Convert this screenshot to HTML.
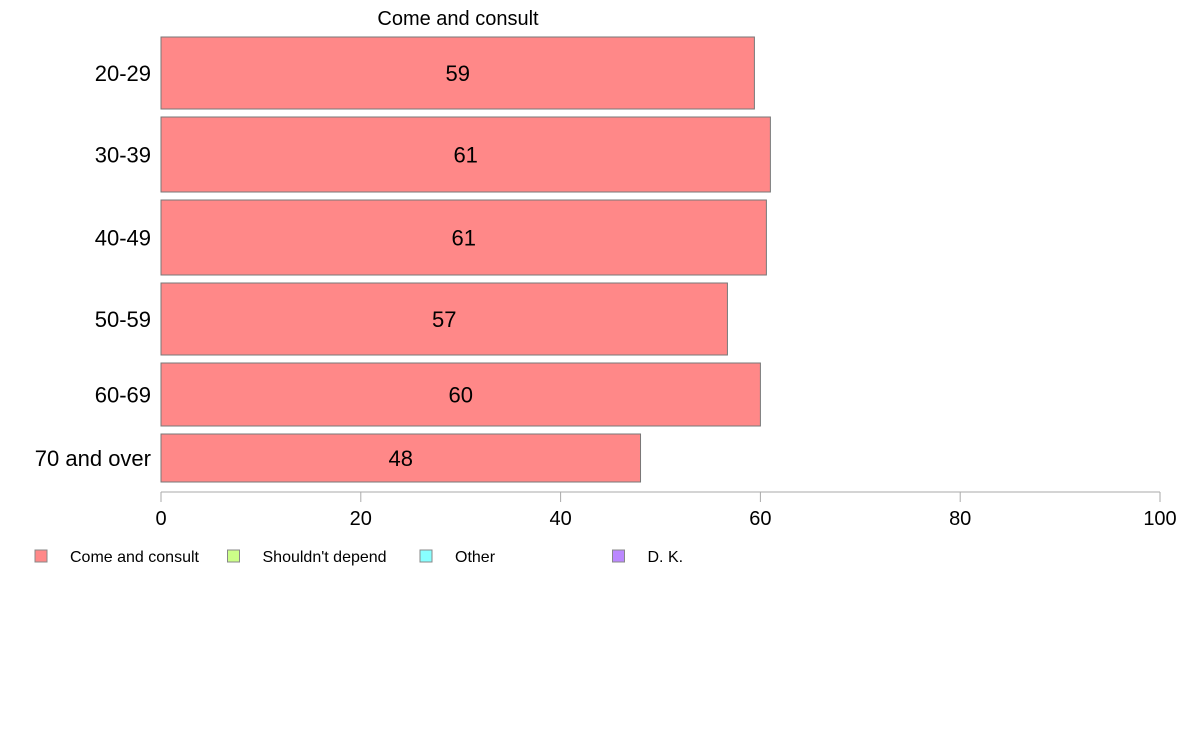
<!DOCTYPE html>
<html><head><meta charset="utf-8"><style>
body{margin:0;background:#fff;width:1188px;height:736px;overflow:hidden}
svg{font-family:"Liberation Sans",Arial,sans-serif}
</style></head><body>
<svg id="chart" width="1188" height="736" viewBox="0 0 1188 736">
<text x="458" y="25" font-size="20" text-anchor="middle">Come and consult</text>
<g id="bars"></g>
<g id="axis"></g>
<g id="legend"></g>
</svg>
<script>
const categories = ["20-29","30-39","40-49","50-59","60-69","70 and over"];
const values = [59.4, 61.0, 60.6, 56.7, 60.0, 48.0];
const labels = ["59","61","61","57","60","48"];
const weights = [72, 75, 75, 72, 63, 48];
const ticks = [0,20,40,60,80,100];
const legendLabels = ["Come and consult","Shouldn't depend","Other","D. K."];
const legendColors = ["#ff8888","#ccff88","#88ffff","#bb88ff"];

const NS="http://www.w3.org/2000/svg";
const x0=161, x1=1160, barTop=37, gap=8;
const xs=v=>x0+(v/100)*(x1-x0);
function mk(tag,attrs,parent){const e=document.createElementNS(NS,tag);for(const k in attrs)e.setAttribute(k,attrs[k]);parent.appendChild(e);return e;}
const bars=document.getElementById('bars');
let yy=barTop;
categories.forEach((c,i)=>{
  const h=weights[i];
  const r=mk('rect',{x:x0,y:yy,width:xs(values[i])-x0,height:h,fill:'#ff8888',stroke:'#777','stroke-width':1},bars);
  
  
  const t=mk('text',{x:(x0+xs(values[i]))/2,y:yy+h/2+8,'font-size':22,'text-anchor':'middle'},bars);
  t.textContent=labels[i];
  
  
  const l=mk('text',{x:151,y:yy+h/2+8,'font-size':22,'text-anchor':'end'},bars);
  l.textContent=c;
  
  
  yy+=h+gap;
});
const axis=document.getElementById('axis');
const al=mk('line',{x1:x0,x2:x1,y1:492,y2:492,stroke:'#aaa'},axis);


ticks.forEach(t=>{
  const tl=mk('line',{x1:xs(t),x2:xs(t),y1:492,y2:502,stroke:'#aaa'},axis);
  
  
  const tx=mk('text',{x:xs(t),y:525,'font-size':20,'text-anchor':'middle'},axis);
  tx.textContent=t;
  
  
});
const lg=document.getElementById('legend');
legendLabels.forEach((s,i)=>{
  const lx=35+i*192.5;
  const sq=mk('rect',{x:lx,y:550,width:12,height:12,fill:legendColors[i],stroke:'#888'},lg);
  
  
  const tx=mk('text',{x:lx+35,y:562,'font-size':16},lg);
  tx.textContent=s;
  
  
});
</script>
</body></html>
